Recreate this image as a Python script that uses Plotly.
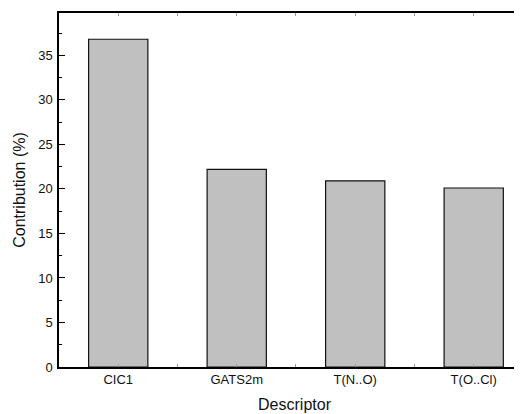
import plotly.graph_objects as go

categories = ["CIC1", "GATS2m", "T(N..O)", "T(O..Cl)"]
contribution = [36.8, 22.2, 20.9, 20.1]

x_pos = list(range(len(categories)))
tick_vals = []
tick_text = []
for i, c in enumerate(categories):
    tick_vals += [i - 0.5, i]
    tick_text += ["", c]
tick_vals.append(len(categories) - 0.5)
tick_text.append("")

fig = go.Figure()
fig.add_trace(go.Bar(
    x=x_pos, y=contribution, width=0.5,
    marker=dict(color="#c0c0c0", line=dict(color="#111111", width=1.2)),
))

font = "Liberation Sans, Arial, sans-serif"
fig.update_layout(
    width=522, height=414,
    margin=dict(l=51, r=0, t=5, b=55),
    plot_bgcolor="white", paper_bgcolor="white",
    showlegend=False,
    font=dict(family=font, size=13, color="#111111"),
    xaxis=dict(
        range=[-0.5, 3.475],
        tickvals=tick_vals, ticktext=tick_text,
        ticks="inside", ticklen=3, tickcolor="#999999", tickwidth=1,
        showline=True, linecolor="black", linewidth=1.5,
        mirror="ticks", showgrid=False, zeroline=False,
        automargin=False,
        title=dict(text="Descriptor", font=dict(size=16), standoff=12),
        tickfont=dict(size=13),
    ),
    yaxis=dict(
        range=[0, 39.75],
        tick0=0, dtick=5,
        ticks="inside", ticklen=6, tickcolor="black", tickwidth=1,
        minor=dict(ticks="inside", ticklen=3, dtick=2.5, tickcolor="black", showgrid=False),
        showline=True, linecolor="black", linewidth=1.5,
        showgrid=False, zeroline=False,
        automargin=False,
        title=dict(text="Contribution (%)", font=dict(size=16), standoff=9),
        tickfont=dict(size=13),
        ticklabelstandoff=2,
    ),
)

fig.write_html("out.html")
